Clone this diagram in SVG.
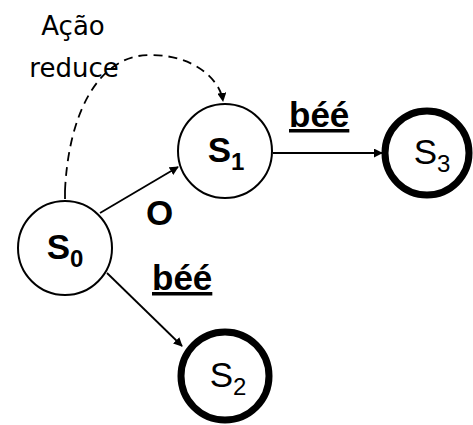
<svg xmlns="http://www.w3.org/2000/svg" width="473" height="425" viewBox="0 0 473 425">
<defs>
<style>
.thin{fill:#fff;stroke:#000;stroke-width:2}
.thick{fill:#fff;stroke:#000;stroke-width:7}
.lbl{font-family:"Liberation Sans",Arial,sans-serif;fill:#000}
.st{font-size:35px;text-anchor:middle}
.ed{font-size:35px;font-weight:bold}
.edge{fill:none;stroke:#000;stroke-width:1.8}
.hand{font-family:"DejaVu Sans","Open Sans",sans-serif;font-size:26px;fill:#000}
</style>
<marker id="ah" viewBox="0 0 10 10" refX="9" refY="5" markerWidth="9" markerHeight="9" markerUnits="userSpaceOnUse" orient="auto">
<path d="M0,0 L10,5 L0,10 z" fill="#000"/>
</marker>
</defs>
<g id="connectors">
<line class="edge" x1="100" y1="213" x2="178" y2="167" marker-end="url(#ah)"/>
<line class="edge" x1="107" y1="273" x2="182" y2="346" marker-end="url(#ah)"/>
<line class="edge" x1="273" y1="153" x2="382" y2="153" marker-end="url(#ah)"/>
<path class="edge" d="M65,199 L65,191" />
<path class="edge" stroke-dasharray="9,6" d="M65,191 C68,120 95,55 150,55 C195,55 220,80 223,101" marker-end="url(#ah)"/>
</g>
<g id="S0">
<circle class="thin" cx="65" cy="248" r="47"/>
<text class="lbl st" x="65" y="259" font-weight="bold">S<tspan font-size="24" dy="8">0</tspan></text>
</g>
<g id="S1">
<circle class="thin" cx="225" cy="151" r="47"/>
<text class="lbl st" x="226" y="162" font-weight="bold">S<tspan font-size="24" dy="8">1</tspan></text>
</g>
<g id="S2">
<circle class="thick" cx="225" cy="376" r="44"/>
<text class="lbl st" x="228" y="387">S<tspan font-size="24" dy="8">2</tspan></text>
</g>
<g id="S3">
<circle class="thick" cx="427" cy="153" r="42"/>
<text class="lbl st" x="432" y="164">S<tspan font-size="24" dy="8">3</tspan></text>
</g>
<g id="labels">
<text class="lbl ed" x="146" y="225">O</text>
<text class="lbl ed" x="152" y="290" text-decoration="underline">béé</text>
<text class="lbl ed" x="289" y="127" text-decoration="underline">béé</text>
<text class="hand" x="73" y="35" text-anchor="middle">Ação</text>
<text class="hand" x="74" y="77" text-anchor="middle">reduce</text>
</g>
</svg>
